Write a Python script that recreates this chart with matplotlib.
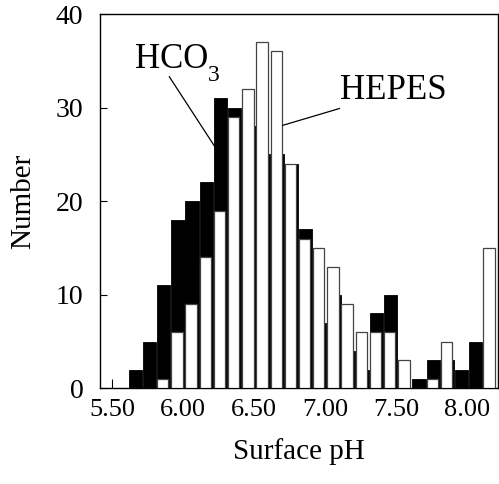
import matplotlib.pyplot as plt

plt.rcParams['font.family'] = ['Liberation Serif', 'DejaVu Serif']

# bordes izquierdos de cada intervalo de pH
bins_ph = [5.6, 5.7, 5.8, 5.9, 6.0, 6.1, 6.2, 6.3, 6.4, 6.5, 6.6, 6.7, 6.8,
           6.9, 7.0, 7.1, 7.2, 7.3, 7.4, 7.5, 7.6, 7.7, 7.8, 7.9, 8.0, 8.1]
hco3 = [2, 5, 11, 18, 20, 22, 31, 30, 28, 25, 25, 24, 17,
        7, 10, 4, 2, 8, 10, 0, 1, 3, 3, 2, 5, 0]
hepes = [0, 0, 1, 6, 9, 14, 19, 29, 32, 37, 36, 24, 16,
         15, 13, 9, 6, 6, 6, 3, 0, 1, 5, 0, 0, 15]
xticks = [5.5, 6.0, 6.5, 7.0, 7.5, 8.0]
yticks = [0, 10, 20, 30, 40]

fig = plt.figure(figsize=(4.99, 4.84), dpi=100)
ax = fig.add_axes([0.2004, 0.1977, 0.7976, 0.7733])

desfase = 0.015
x_izq = [b + desfase for b in bins_ph]
ax.bar(x_izq, hco3, width=0.094, align='edge', color='black',
       edgecolor='black', linewidth=0.6, zorder=2)
ax.bar(x_izq, hepes, width=0.08, align='edge', color='white',
       edgecolor='#444444', linewidth=0.9, zorder=3)

ax.set_axisbelow(True)
ax.set_xlim(5.412, 8.219)
ax.set_ylim(0, 40)
ax.set_xticks(xticks)
ax.set_xticklabels(['%.2f' % t for t in xticks])
ax.set_yticks(yticks)
ax.tick_params(axis='x', direction='in', length=6.5, width=0.8, labelsize=19, pad=8)
ax.tick_params(axis='y', direction='in', length=5, width=0.8, labelsize=20, pad=12)
for s in ax.spines.values():
    s.set_linewidth(1.0)

ax.set_xlabel('Surface pH', fontsize=21, labelpad=12)
ax.set_ylabel('Number', fontsize=21, labelpad=14)

# etiquetas con lineas indicadoras
ax.text(5.659, 34.2, 'HCO', fontsize=25, ha='left', va='baseline')
ax.text(6.17, 32.8, '3', fontsize=17, ha='left', va='baseline')
ax.plot([5.901, 6.223], [33.3, 25.8], color='black', lw=0.9, zorder=4)
ax.text(7.105, 30.9, 'HEPES', fontsize=25, ha='left', va='baseline')
ax.plot([7.100, 6.700], [29.9, 28.1], color='black', lw=0.9, zorder=4)

fig.savefig('out.png', dpi=100)
